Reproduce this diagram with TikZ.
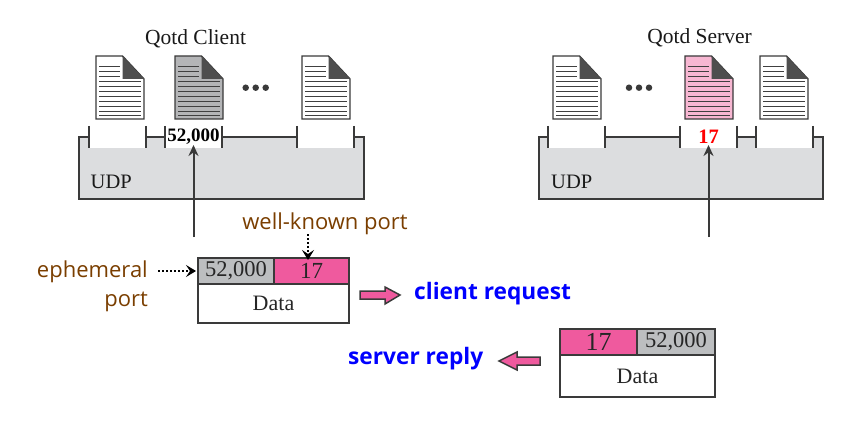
\documentclass[tikz,border=0pt]{standalone}
\usepackage{fontspec}
\setmainfont{Liberation Serif}
\newfontfamily\labelfont{Open Sans}
\usetikzlibrary{arrows.meta}
\definecolor{udpgray}{HTML}{DCDDDF}
\definecolor{hotpink}{HTML}{EF5A9E}
\definecolor{hdrgray}{HTML}{BCBEC0}
\definecolor{softpink}{HTML}{F7B7D2}
\definecolor{docgray}{HTML}{B4B5B7}
\definecolor{inkdark}{HTML}{3A3A3A}
\definecolor{brownlabel}{HTML}{7A3E00}
\newcommand{\fsz}[1]{\fontsize{#1}{#1}\selectfont}
\newcommand{\docicon}[3]{% left x, fill, name
  \fill[#2] (#1,56) -- ++(26.5,0) -- ++(21.5,23) -- (#1+48,119) -- (#1,119) -- cycle;
  \foreach \yy in {66.5,71.5,76.5} \draw[doclines] (#1+3,\yy) -- (#1+24,\yy);
  \foreach \yy in {81.5,86.5,91.5,96.5,101.5,106.5,111.5,115.5} \draw[doclines] (#1+3,\yy) -- (#1+44.5,\yy);
  \draw[line width=1.4pt,inkdark] (#1,56) -- ++(26.5,0) -- ++(21.5,23) -- (#1+48,119) -- (#1,119) -- cycle;
  \fill[inkdark!90] (#1+26.5,56) -- (#1+48,79) -- (#1+26.5,79) -- cycle;
  \coordinate (#3) at (#1+24,119);
}
\tikzset{
  x=1pt,y=-1pt,
  doclines/.style={line width=1pt,black!75},
  udpbox/.style={draw=inkdark,line width=1.4pt,fill=udpgray,minimum height=62pt,inner sep=0pt,outer sep=0pt},
  portbox/.style={fill=white,minimum width=57pt,minimum height=22pt,inner sep=0pt,outer sep=0pt},
  tick/.style={line width=1.4pt,inkdark},
  serif/.style={text=black!90,font=\fsz{#1},inner sep=0pt},
  hdr/.style={draw=inkdark,line width=1.5pt,inner sep=0pt,outer sep=0pt,text=black!85},
  conn/.style={line width=2pt,inkdark,-{Stealth[length=11pt,width=10pt]}},
  dotconn/.style={line width=2pt,black,dash pattern=on 2pt off 2pt,-{Stealth[length=10pt,width=12pt,inset=4pt]}},
  brown/.style={text=brownlabel,font=\labelfont\fsz{22},inner sep=0pt},
  bluelabel/.style={text=blue,font=\labelfont\bfseries\fsz{22.7},inner sep=0pt},
  fatarrow/.style={draw=inkdark,line width=1.5pt,fill=hotpink},
  dotmark/.style={circle,fill=inkdark,minimum size=6.5pt,inner sep=0pt},
}
\begin{document}
\begin{tikzpicture}
\useasboundingbox (0,0) rectangle (864,425);
% titles
\node[serif=21.5] (clienttitle) at (195.5,39) {Qotd Client};
\node[serif=21.5] (servertitle) at (699.5,38) {Qotd Server};
% documents
\docicon{96}{white}{docA}
\docicon{175}{docgray}{docB}
\docicon{302}{white}{docC}
\docicon{553}{white}{docD}
\docicon{685}{softpink}{docE}
\docicon{760}{white}{docF}
\node[dotmark] (d1) at (245.7,87.7) {};
\node[dotmark] (d2) at (255.7,87.7) {};
\node[dotmark] (d3) at (265.7,87.7) {};
\node[dotmark] (d4) at (629,87.7) {};
\node[dotmark] (d5) at (639,87.7) {};
\node[dotmark] (d6) at (649,87.7) {};
% UDP boxes
\node[udpbox,minimum width=285pt] (udpc) at (221.5,168) {};
\node[udpbox,minimum width=284pt] (udps) at (681,168) {};
\node[serif=20.5,anchor=west] (udpcl) at (90.5,182) {UDP};
\node[serif=20.5,anchor=west] (udpsl) at (551,182) {UDP};
% ports
\node[portbox] (pa) at (117.5,137) {};
\node[portbox] (pb) at (193.5,137) {\fsz{19}\bfseries 52,000};
\node[portbox] (pc) at (325.5,137) {};
\node[portbox] (pd) at (576.5,137) {};
\node[portbox] (pe) at (708.5,137) {\fsz{20.5}\bfseries\textcolor{red}{17}};
\node[portbox] (pf) at (784.5,137) {};
\foreach \p in {pa,pb,pc,pd,pe,pf}{
  \draw[tick] (\p.north west) -- (\p.south west);
  \draw[tick] (\p.north east) -- (\p.south east);
}
% vertical arrows
\coordinate (cin) at (pb.south |- 0,237);
\coordinate (sin) at (pe.south |- 0,237);
\draw[conn] (cin) -- ([yshift=3pt]pb.south);
\draw[conn] (sin) -- ([yshift=3pt]pe.south);
% request packet
\node[hdr,fill=hdrgray,minimum width=76pt,minimum height=26pt,font=\fsz{22.5},anchor=north west] (rq1) at (198,258) {52,000};
\node[hdr,fill=hotpink,minimum width=75pt,minimum height=26pt,font=\fsz{23},anchor=north west] (rq2) at (274,258) {17};
\node[hdr,fill=white,minimum width=151pt,minimum height=39pt,font=\fsz{22},anchor=north west] (rq3) at (198,284) {Data};
% reply packet
\node[hdr,fill=hotpink,minimum width=77pt,minimum height=26pt,font=\fsz{26},anchor=north west] (rp1) at (560,329) {17};
\node[hdr,fill=hdrgray,minimum width=78pt,minimum height=26pt,font=\fsz{22.5},anchor=north west] (rp2) at (637,329) {52,000};
\node[hdr,fill=white,minimum width=155pt,minimum height=42pt,font=\fsz{22},anchor=north west] (rp3) at (560,355) {Data};
% labels
\node[brown,anchor=base east] (eph1) at (148,277) {ephemeral};
\node[brown,anchor=base east] (eph2) at (148,306) {port};
\node[brown] (wk) at (325,224) {well-known port};
\coordinate (ephend) at (158,271);
\coordinate (wkend) at (308,234);
\draw[dotconn] (ephend) -- ([xshift=-2pt]rq1.west |- ephend) ;
\draw[dotconn] (wkend) -- ([yshift=-2pt]wkend |- rq2.north);
% block arrows
\draw[fatarrow] (360,291) -- (385,291) -- (385,287) -- (400,295) -- (385,304) -- (385,299) -- (360,299) -- cycle;
\draw[fatarrow] (540,357) -- (517,357) -- (517,352) -- (499,361) -- (517,370) -- (517,365) -- (540,365) -- cycle;
\node[bluelabel,anchor=west] (creq) at (414,294) {client request};
\node[bluelabel,anchor=west] (srep) at (348,359) {server reply};
\end{tikzpicture}
\end{document}
